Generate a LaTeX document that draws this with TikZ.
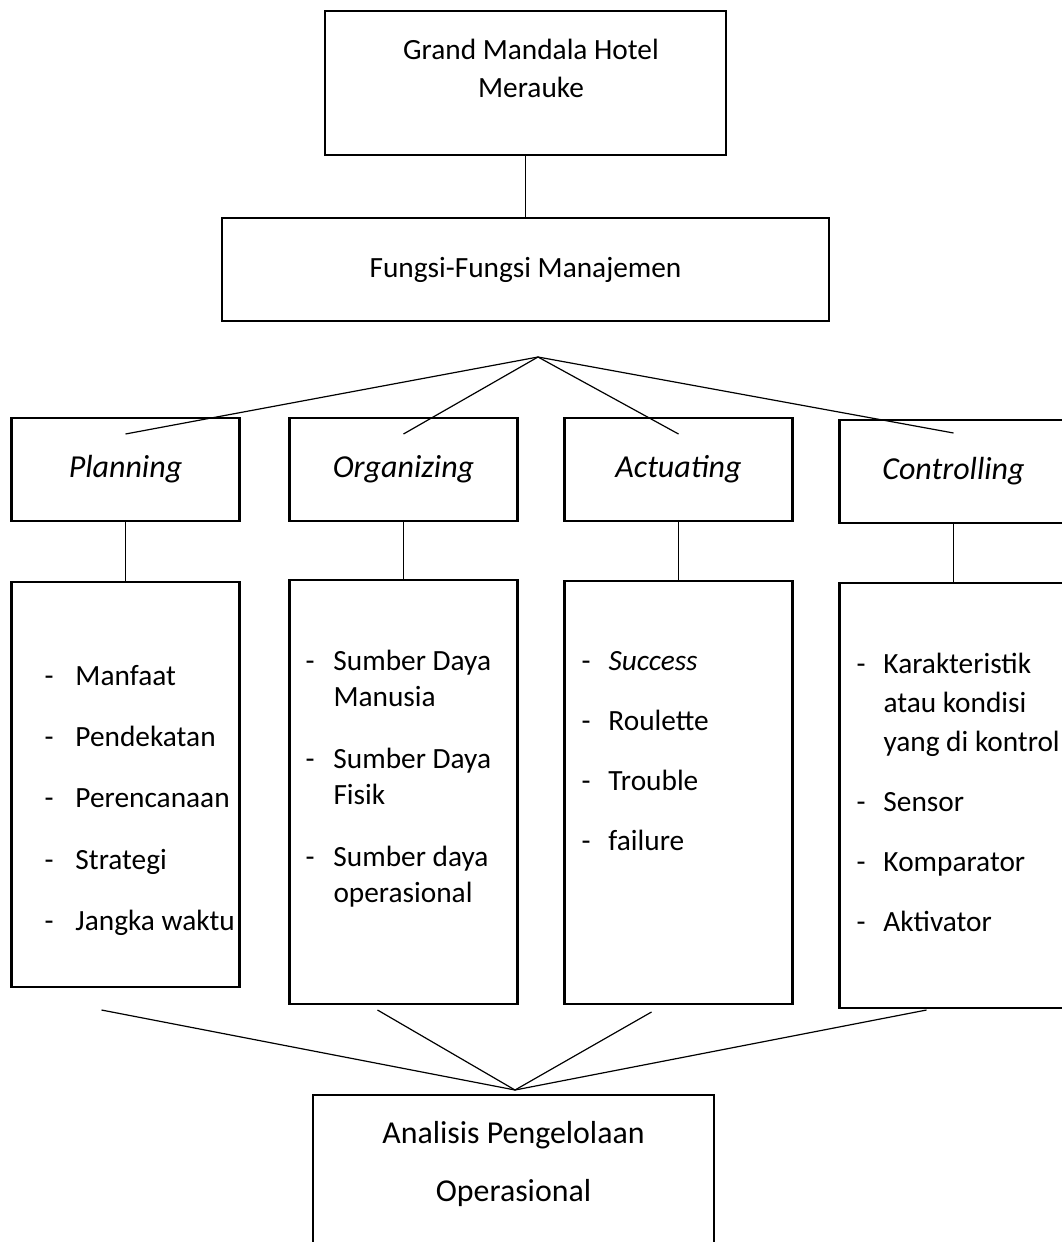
\documentclass[tikz,border=0pt]{standalone}
\usepackage{fontspec}
\setmainfont{Carlito}
\usepackage{tikz}
\usetikzlibrary{positioning,calc}
\newlength{\px}
\setlength{\px}{0.75pt}
\newcommand{\itm}[2][27\px]{\makebox[#1][l]{-}\mbox{#2}}
\newcommand{\cnt}[2][27\px]{\hspace*{#1}\mbox{#2}}
\newcommand{\txtline}[1]{\mbox{\spaceskip=0pt\relax #1}}
\tikzset{
  box/.style={draw, line width=2pt, inner sep=0pt, outer sep=0pt, execute at begin node={\spaceskip=0pt\relax}},
  head/.style={box, minimum width=228\px, minimum height=103\px, font=\fontsize{24}{29}\selectfont\itshape},
  list/.style={box, align=left, font=\fontsize{22}{27}\selectfont},
  link/.style={line width=1.4pt},
  fan/.style={line width=0.9pt}
}
\begin{document}
\begin{tikzpicture}[x=0.75pt, y=-0.75pt, node distance=47\px]
\useasboundingbox (0,0) rectangle (1062,1242);
\clip (0,0) rectangle (1062,1242);
\node[box, text width=401\px, align=center, text height=48\px, text depth=96\px, font=\fontsize{22}{28.5}\selectfont] (hotel) at (525.5,83) {\hspace*{11\px}\txtline{Grand Mandala Hotel}\\\hspace*{11\px}Merauke};
\node[box, minimum width=607\px, minimum height=103\px, font=\fontsize{22}{26}\selectfont, below=63\px of hotel] (fungsi) {Fungsi-Fungsi Manajemen};
\coordinate (fanTop) at (538,357);
\node[head] (planH) at (125.5,469.5) {Planning};
\node[head, right=50\px of planH] (orgH) {Organizing};
\node[head, right=of orgH] (actH) {Actuating};
\node[head, right=of actH, yshift=-2\px] (ctrlH) {Controlling};
\node[list, below=61\px of planH, inner xsep=33\px, text width=162\px, text height=103\px, text depth=302\px] (planL)
  {\itm[31\px]{Manfaat}\\[19pt]\itm[31\px]{Pendekatan}\\[19pt]\itm[31\px]{Perencanaan}\\[19pt]\itm[31\px]{Strategi}\\[19pt]\itm[31\px]{Jangka waktu}};
\node[list, below=59\px of orgH, inner xsep=16\px, text width=196\px, text height=90\px, text depth=334\px] (orgL)
  {\itm[28\px]{Sumber Daya}\\\cnt[28\px]{Manusia}\\[19.5pt]\itm[28\px]{Sumber Daya}\\\cnt[28\px]{Fisik}\\[19.5pt]\itm[28\px]{Sumber daya}\\\cnt[28\px]{operasional}};
\node[list, below=60\px of actH, inner xsep=17\px, text width=194\px, text height=89\px, text depth=334\px] (actL)
  {\itm{\textit{Success}}\\[18pt]\itm{Roulette}\\[18pt]\itm{Trouble}\\[18pt]\itm{failure}};
\node[list, below=60\px of ctrlH, inner xsep=17\px, text width=194\px, text height=90\px, text depth=335\px, font=\fontsize{22}{29.6}\selectfont] (ctrlL)
  {\itm{Karakteristik}\\\cnt{atau kondisi}\\\cnt{yang di kontrol}\\[15.4pt]\itm{Sensor}\\[15.4pt]\itm{Komparator}\\[15.4pt]\itm{Aktivator}};
\coordinate (fanBot) at (515,1090);
\node[box, anchor=north, text width=401\px, align=center, text height=48\px, text depth=170\px, font=\fontsize{23.9}{44}\selectfont] (anal) at (513.5,1095) {\txtline{Analisis Pengelolaan}\\Operasional};
% top part
\draw[link] (hotel) -- (fungsi);
\draw[fan] (fanTop) -- ($(planH.north)+(0,16)$); \draw[fan] (fanTop) -- ($(orgH.north)+(0,16)$);
\draw[fan] (fanTop) -- ($(actH.north)+(0,16)$); \draw[fan] (fanTop) -- ($(ctrlH.north)+(0,13)$);
\draw[link] (planH) -- (planL); \draw[link] (orgH) -- (orgL);
\draw[link] (actH) -- (actL); \draw[link] (ctrlH) -- (ctrlL);
% bottom part
\draw[fan] ($(planL.south)+(-24,23)$) -- (fanBot); \draw[fan] ($(orgL.south)+(-26,6)$) -- (fanBot);
\draw[fan] ($(actL.south)+(-27,8)$) -- (fanBot); \draw[fan] ($(ctrlL.south)+(-27,2)$) -- (fanBot);
\end{tikzpicture}
\end{document}
